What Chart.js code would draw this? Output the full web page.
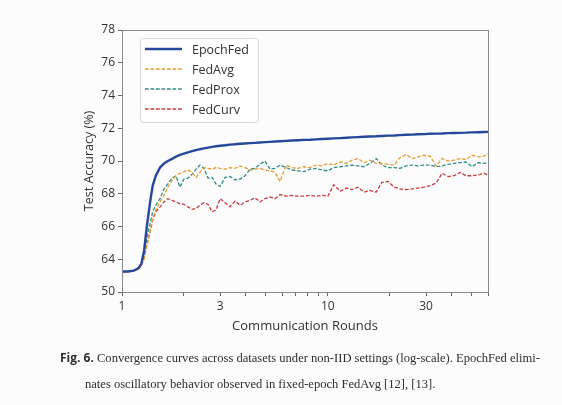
<!DOCTYPE html>
<html><head><meta charset="utf-8">
<script src="https://cdn.jsdelivr.net/npm/chart.js@4.4.1/dist/chart.umd.min.js"></script>
<style>
html,body{margin:0;padding:0;background:#fcfcfc;}
#wrap{position:relative;width:562px;height:405px;overflow:hidden;}
canvas{position:absolute;left:0;top:0;}
.cap{position:absolute;font-family:"Liberation Serif","DejaVu Serif",serif;font-size:12.55px;line-height:16px;color:#2e2e2e;white-space:nowrap;}
.cap b{font-family:"Open Sans",sans-serif;font-weight:700;font-size:12px;color:#2e2e2e;}
</style></head>
<body><div id="wrap"><canvas id="c" width="562" height="405"></canvas>
<div class="cap" style="left:60px;top:350px;"><b>Fig. 6.</b> Convergence curves across datasets under non-IID settings (log-scale). EpochFed elimi-</div>
<div class="cap" style="left:85px;top:376px;">nates oscillatory behavior observed in fixed-epoch FedAvg [12], [13].</div>
</div>
<script>
const rounds = [1,1.07,1.14,1.2,1.24,1.28,1.32,1.37,1.41,1.46,1.53,1.6,1.67,1.75,1.83,1.91,2.0,2.09,2.19,2.29,2.39,2.5,2.62,2.74,2.86,3.0,3.17,3.35,3.54,3.75,3.96,4.19,4.43,4.68,4.95,5.24,5.54,5.86,6.27,6.7,7.17,7.66,8.2,8.76,9.37,10.0,10.7,11.5,12.3,13.1,14.0,15.0,16.0,17.2,18.3,19.6,21.0,22.4,24.0,25.7,27.4,29.3,31.4,33.6,35.9,38.4,41.0,43.9,46.9,50.2,53.7,57.4,60];
const epochFed = [63.25,63.25,63.3,63.45,63.7,64.5,66.0,67.5,68.5,69.1,69.6,69.85,70.0,70.13,70.27,70.37,70.45,70.53,70.6,70.66,70.72,70.77,70.82,70.86,70.9,70.93,70.96,71.0,71.02,71.05,71.07,71.09,71.11,71.13,71.15,71.17,71.19,71.21,71.23,71.25,71.27,71.29,71.3,71.32,71.34,71.36,71.38,71.4,71.42,71.44,71.46,71.48,71.5,71.51,71.53,71.55,71.56,71.58,71.6,71.61,71.63,71.64,71.66,71.67,71.68,71.7,71.71,71.72,71.73,71.75,71.76,71.77,71.78];
const fedAvg = [63.25,63.25,63.3,63.4,63.6,64.0,64.8,65.7,66.5,67.0,67.5,67.9,68.4,68.8,69.1,69.25,69.35,69.45,69.3,69.0,69.3,69.6,69.55,69.5,69.6,69.55,69.5,69.6,69.55,69.7,69.6,69.45,69.5,69.55,69.45,69.4,69.3,68.75,69.75,69.6,69.55,69.65,69.6,69.75,69.7,69.85,69.75,69.95,69.85,70.05,70.15,69.9,70.05,69.85,69.85,69.8,69.75,70.2,70.4,70.15,70.25,70.35,70.3,69.7,70.15,70.0,70.05,70.15,70.1,70.35,70.25,70.3,70.45];
const fedProx = [63.25,63.25,63.3,63.45,63.7,64.3,65.3,66.2,66.9,67.3,67.7,68.3,68.6,68.95,69.1,68.4,68.9,68.95,69.2,69.5,69.75,69.55,68.95,69.0,68.6,68.45,69.0,69.05,68.85,68.9,69.1,69.5,69.55,69.8,70.0,69.5,69.55,69.75,69.6,69.45,69.4,69.35,69.5,69.55,69.45,69.4,69.6,69.65,69.7,69.75,69.7,69.65,69.85,70.15,69.75,69.6,69.6,69.55,69.7,69.75,69.7,69.75,69.75,69.65,69.7,69.8,69.85,69.9,69.95,69.65,69.9,69.85,69.9];
const fedCurv = [63.25,63.25,63.3,63.4,63.6,64.1,64.9,65.7,66.4,66.9,67.2,67.5,67.7,67.6,67.5,67.4,67.35,67.2,67.05,67.1,67.3,67.45,67.35,66.9,67.0,67.7,67.45,67.2,67.55,67.3,67.5,67.6,67.75,67.5,67.7,67.8,67.7,67.95,67.85,67.9,67.85,67.85,67.9,67.85,67.9,67.85,68.55,68.15,68.35,68.25,68.4,68.1,68.2,68.1,68.7,68.75,68.4,68.3,68.25,68.3,68.35,68.4,68.5,68.65,69.25,69.05,69.1,69.3,69.1,69.1,69.15,69.25,69.15];
const seriesNames = ['EpochFed','FedAvg','FedProx','FedCurv'];
const xTickValues = [1,2,3,4,5,6,7,8,9,10,20,30,40,50,60];
const xTickLabels = {1:'1',3:'3',10:'10',30:'30'};
const yTickValues = [62,64,66,68,70,72,74,76,78];
const yTickLabels = ['50','64','66','68','70','72','74','76','78'];

const colors = ['#27479c','#e39d33','#2f8f83','#c73b3f'];
const seriesData = [epochFed, fedAvg, fedProx, fedCurv];
const FONT = '"Open Sans", "Noto Sans", sans-serif';

const datasets = seriesNames.map((name, i) => ({
  label: name,
  data: rounds.map((r, k) => ({x: r, y: seriesData[i][k]})),
  borderColor: colors[i],
  backgroundColor: colors[i],
  borderWidth: i === 0 ? 2.4 : 1.3,
  borderDash: i === 0 ? [] : [3.7, 1.8],
  pointRadius: 0,
  tension: 0,
  fill: false,
  order: i === 0 ? 0 : 1
}));

const framePlugin = {
  id: 'frame',
  afterDatasetsDraw(chart) {
    const {ctx, chartArea: a} = chart;
    ctx.save();
    ctx.strokeStyle = '#8a8a8a';
    ctx.lineWidth = 1;
    ctx.strokeRect(Math.round(a.left) + 0.5, Math.round(a.top) + 0.5, Math.round(a.right - a.left), Math.round(a.bottom - a.top));
    ctx.restore();
  }
};

const legendPlugin = {
  id: 'boxLegend',
  afterDraw(chart) {
    const {ctx, chartArea: a} = chart;
    const x0 = a.left + 18, y0 = a.top + 8, w = 118, h = 84;
    ctx.save();
    ctx.beginPath();
    ctx.roundRect(x0 + 0.5, y0 + 0.5, w, h, 3);
    ctx.fillStyle = 'rgba(255,255,255,0.85)';
    ctx.fill();
    ctx.strokeStyle = '#d8d8d8';
    ctx.lineWidth = 1;
    ctx.stroke();
    chart.data.datasets.forEach((ds, i) => {
      const y = y0 + 11 + i * 20;
      ctx.beginPath();
      ctx.setLineDash(ds.borderDash);
      ctx.strokeStyle = ds.borderColor;
      ctx.lineWidth = ds.borderWidth;
      ctx.moveTo(x0 + 5, y);
      ctx.lineTo(x0 + 42, y);
      ctx.stroke();
      ctx.setLineDash([]);
      ctx.fillStyle = '#333';
      ctx.font = '12.5px ' + FONT;
      ctx.textBaseline = 'middle';
      ctx.textAlign = 'left';
      ctx.fillText(ds.label, x0 + 52, y + 1);
    });
    ctx.restore();
  }
};

new Chart(document.getElementById('c'), {
  type: 'line',
  data: {datasets},
  plugins: [framePlugin, legendPlugin],
  options: {
    responsive: false,
    animation: false,
    devicePixelRatio: 1,
    layout: {padding: {left: 0, right: 74, top: 30, bottom: 0}},
    plugins: {legend: {display: false}, tooltip: {enabled: false}},
    scales: {
      x: {
        type: 'logarithmic',
        min: 1, max: 60,
        afterBuildTicks: s => { s.ticks = xTickValues.map(v => ({value: v})); },
        afterFit: s => { s.height = 113; },
        border: {display: false},
        grid: {drawOnChartArea: false, drawTicks: true, tickLength: 4, color: '#666'},
        ticks: {
          autoSkip: false, maxRotation: 0, minRotation: 0, padding: 3,
          color: '#333', font: {family: FONT, size: 12},
          callback: v => xTickLabels[v] !== undefined ? xTickLabels[v] : ''
        },
        title: {display: true, text: 'Communication Rounds', color: '#333',
          font: {family: FONT, size: 13}, padding: {top: 0, bottom: 71}}
      },
      y: {
        type: 'linear',
        min: 62, max: 78,
        afterBuildTicks: s => { s.ticks = yTickValues.map(v => ({value: v})); },
        afterFit: s => { s.width = 122; },
        border: {display: false},
        grid: {drawOnChartArea: false, drawTicks: true, tickLength: 4, color: '#666'},
        ticks: {
          autoSkip: false, padding: 3, color: '#333', font: {family: FONT, size: 12},
          callback: v => { const i = yTickValues.indexOf(v); return i >= 0 ? yTickLabels[i] : ''; }
        },
        title: {display: true, text: 'Test Accuracy (%)', color: '#333',
          font: {family: FONT, size: 12.5}, padding: {top: 82, bottom: 0}}
      }
    }
  }
});
</script>
</body></html>
